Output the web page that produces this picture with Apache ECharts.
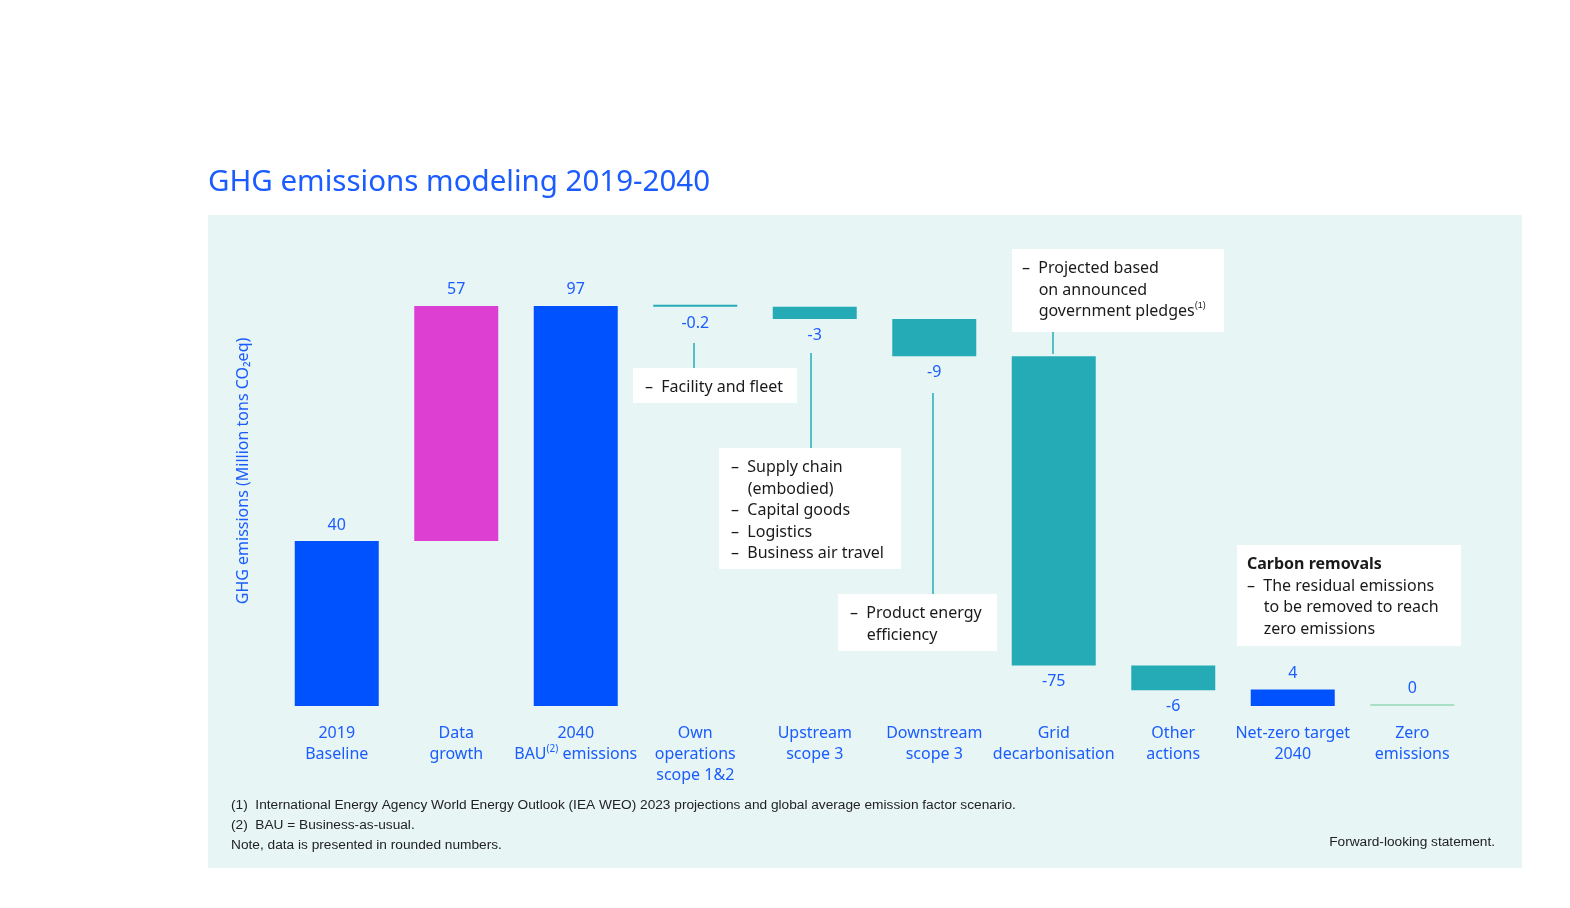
<!DOCTYPE html>
<html><head><meta charset="utf-8">
<script src="https://cdn.jsdelivr.net/npm/echarts@6/dist/echarts.min.js"></script>
<style>html,body{margin:0;padding:0;background:#fff}#c{width:1570px;height:908px}</style>
</head><body><div id="c"></div>
<script>
const categories = ['2019\nBaseline','Data\ngrowth','2040\nBAU(2) emissions','Own\noperations\nscope 1&2','Upstream\nscope 3','Downstream\nscope 3','Grid\ndecarbonisation','Other\nactions','Net-zero target\n2040','Zero\nemissions'];
const changes = [40, 57, 97, -0.2, -3, -9, -75, -6, 4, 0];
const isTotal = [true, false, true, false, false, false, false, false, true, true];
const labels = ['40','57','97','-0.2','-3','-9','-75','-6','4','0'];

const BLUE='#0052ff', MAG='#dc3fd2', TEAL='#24abb6', ZERO='#a9dfc4';
const colors = [BLUE, MAG, BLUE, TEAL, TEAL, TEAL, TEAL, TEAL, BLUE, ZERO];

let running = 0; const base = [], height = [];
changes.forEach((v,i)=>{
  if (isTotal[i]) { base.push(0); height.push(Math.abs(v)); running = v; }
  else if (v >= 0) { base.push(running); height.push(v); running += v; }
  else { running += v; base.push(running); height.push(-v); }
});

const FONT = '"Noto Sans", "Open Sans", sans-serif';
const txtColor = '#1a1a1a';
function box(x,y,w,h,lines,extra){
  const els=[{type:'rect',shape:{x:x,y:y,width:w,height:h},style:{fill:'#fff'},z:100}];
  els.push({type:'text',x:x+12,y:y+9,z:101,style:Object.assign({text:lines,font:'16px '+FONT,fill:txtColor,lineHeight:21.5},extra||{})});
  return els;
}
function vline(x,y1,y2){return {type:'line',shape:{x1:x,y1:y1,x2:x,y2:y2},style:{stroke:TEAL,lineWidth:1.5},z:99};}
const FN = '13.7px "Liberation Sans", sans-serif';

const chart = echarts.init(document.getElementById('c'));
chart.setOption({
  backgroundColor:'#fff',
  animation:false,
  grid:{left:277,right:98,top:293.5,bottom:202},
  xAxis:{type:'category',data:categories,axisLine:{show:false},axisTick:{show:false},
    axisLabel:{interval:0,margin:17,color:'#1a5cff',fontSize:16,fontFamily:FONT,lineHeight:21,
      formatter:v=>v.replace('(2)','{sup|(2)}'),
      rich:{sup:{fontSize:10,verticalAlign:'top',color:'#1a5cff',padding:[0,0,8,0]}}}},
  yAxis:{type:'value',min:0,max:100,show:false},
  series:[
    {type:'bar',stack:'w',data:base,itemStyle:{color:'transparent'},barWidth:84,silent:true},
    {type:'bar',stack:'w',barWidth:84,barMinHeight:2,
      data:height.map((h,i)=>({value:h,itemStyle:{color:colors[i]},
        label:{show:true,position:(changes[i]<0)?'bottom':'top',distance:(i===3)?9:8,
          formatter:()=>labels[i],color:'#1a5cff',fontSize:16,fontFamily:FONT}}))}
  ],
  graphic:[
    {type:'rect',shape:{x:208,y:215,width:1314,height:653},style:{fill:'#e7f5f5'},z:-10},
    {type:'text',x:208,y:168,style:{text:'GHG emissions modeling 2019-2040',font:'29.5px '+FONT,fill:'#1a5cff'}},
    {type:'text',x:243,y:471,rotation:Math.PI/2,style:{text:'GHG emissions (Million tons CO₂eq)',font:'16px '+FONT,fill:'#1a5cff',align:'center',verticalAlign:'middle'}},
    vline(694,343,368), ...box(633,368,164,35,'–  Facility and fleet'),
    vline(811,353,448), ...box(719,448,182,121,'–  Supply chain\n    (embodied)\n–  Capital goods\n–  Logistics\n–  Business air travel'),
    vline(933,393,594), ...box(838,594,159,57,'–  Product energy\n    efficiency'),
    vline(1053,332,354),
    {type:'rect',shape:{x:1012,y:249,width:212,height:83},style:{fill:'#fff'},z:100},
    {type:'text',x:1022,y:258,z:101,style:{text:'–  Projected based\n    on announced\n    government pledges{s|(1)}',font:'16px '+FONT,fill:txtColor,lineHeight:21.5,rich:{s:{fontSize:9,verticalAlign:'top',fill:txtColor,padding:[0,0,8,0]}}}},
    {type:'rect',shape:{x:1237,y:545,width:224,height:101},style:{fill:'#fff'},z:100},
    {type:'text',x:1247,y:554,z:101,style:{text:'{b|Carbon removals}\n–  The residual emissions\n    to be removed to reach\n    zero emissions',font:'16px '+FONT,fill:txtColor,lineHeight:21.5,rich:{b:{fontWeight:'bold',fontSize:16,fontFamily:FONT,fill:txtColor}}}},
    {type:'text',x:231,y:795,style:{text:'(1)  International Energy Agency World Energy Outlook (IEA WEO) 2023 projections and global average emission factor scenario.\n(2)  BAU = Business-as-usual.\nNote, data is presented in rounded numbers.',font:FN,fill:'#222',lineHeight:20}},
    {type:'text',x:1495,y:835,style:{text:'Forward-looking statement.',font:FN,fill:'#222',align:'right'}}
  ]
});
</script></body></html>
